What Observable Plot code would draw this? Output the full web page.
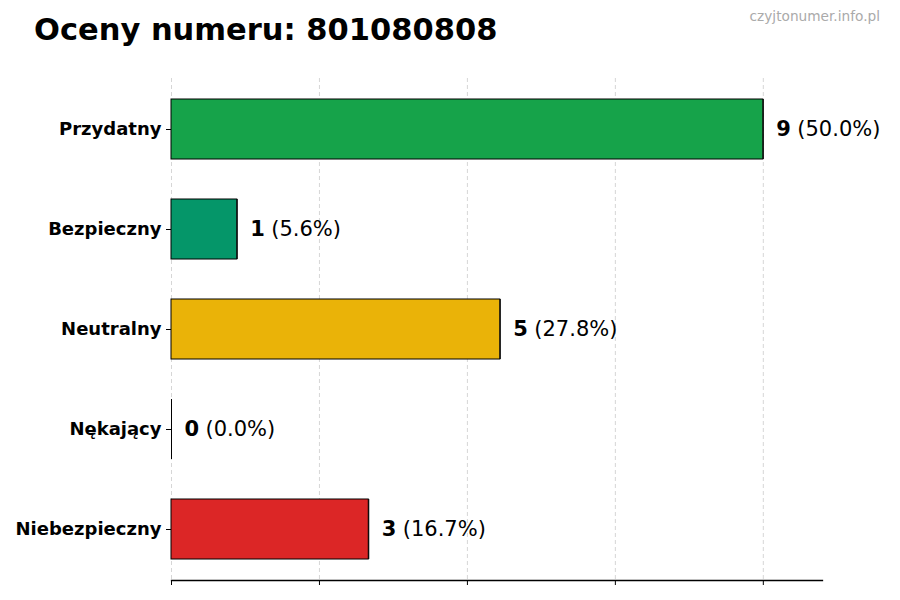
<!DOCTYPE html>
<html>
<head>
<meta charset="utf-8">
<script src="https://cdn.jsdelivr.net/npm/d3@7"></script>
<script src="https://cdn.jsdelivr.net/npm/@observablehq/plot@0.6"></script>
<style>
  html, body { margin: 0; padding: 0; background: #fff; }
  #wrap { position: relative; width: 900px; height: 600px; font-family: "DejaVu Sans", sans-serif; }
  #title { height: 60px; line-height: 60px; padding-left: 34px; font-size: 30.5px; font-weight: bold; color: #000; }
  #mark { position: absolute; right: 20px; top: 8px; font-size: 13.7px; color: #aaa; line-height: normal; }
  svg { display: block; }
</style>
</head>
<body>
<div id="wrap">
  <div id="title">Oceny numeru: 801080808</div>
  <div id="mark">czyjtonumer.info.pl</div>
  <div id="chart"></div>
</div>
<script>
const categories = ["Przydatny", "Bezpieczny", "Neutralny", "Nękający", "Niebezpieczny"];
const counts = [9, 1, 5, 0, 3];
const percents = ["50.0%", "5.6%", "27.8%", "0.0%", "16.7%"];
const colors = ["#16a34a", "#059669", "#eab308", "#6b7280", "#dc2626"];
const xTicks = [0, 2.25, 4.5, 6.75, 9];
const xMax = 9.9;

const data = categories.map((c, i) => ({category: c, value: counts[i], pct: percents[i], color: colors[i]}));

const chart = Plot.plot({
  width: 900,
  height: 540,
  marginLeft: 171,
  marginRight: 78,
  marginTop: 18,
  marginBottom: 20,
  style: {fontFamily: "DejaVu Sans, sans-serif", background: "#fff", color: "#000"},
  x: {domain: [0, xMax], label: null},
  y: {domain: categories, paddingInner: 0.4, paddingOuter: 0.2, label: null},
  color: {type: "identity"},
  marks: [
    Plot.gridX(xTicks, {stroke: "#cccccc", strokeOpacity: 1, strokeDasharray: "4,3", strokeWidth: 0.8}),
    Plot.barX(data, {x: "value", y: "category", fill: "color", stroke: "#000", strokeWidth: 1}),
    Plot.tickX(data, {x: "value", y: "category", stroke: "#000", strokeWidth: 1}),
    Plot.axisX({ticks: xTicks, tickFormat: () => "", tickSize: 5, stroke: "#000", strokeWidth: 1, label: null}),
    Plot.frame({anchor: "bottom", stroke: "#000", strokeWidth: 1.3}),
    Plot.axisY({tickSize: 5, tickPadding: 5, fontSize: 18, fontWeight: "bold", fill: "#000", label: null}),
    Plot.text(data, {x: "value", y: "category", text: d => String(d.value), dx: 13, textAnchor: "start", fontWeight: "bold", fontSize: 21, fill: "#000"}),
    Plot.text(data, {x: "value", y: "category", text: d => "(" + d.pct + ")", dx: 34, textAnchor: "start", fontSize: 21, fill: "#000"})
  ]
});
document.getElementById("chart").appendChild(chart);
</script>
</body>
</html>
